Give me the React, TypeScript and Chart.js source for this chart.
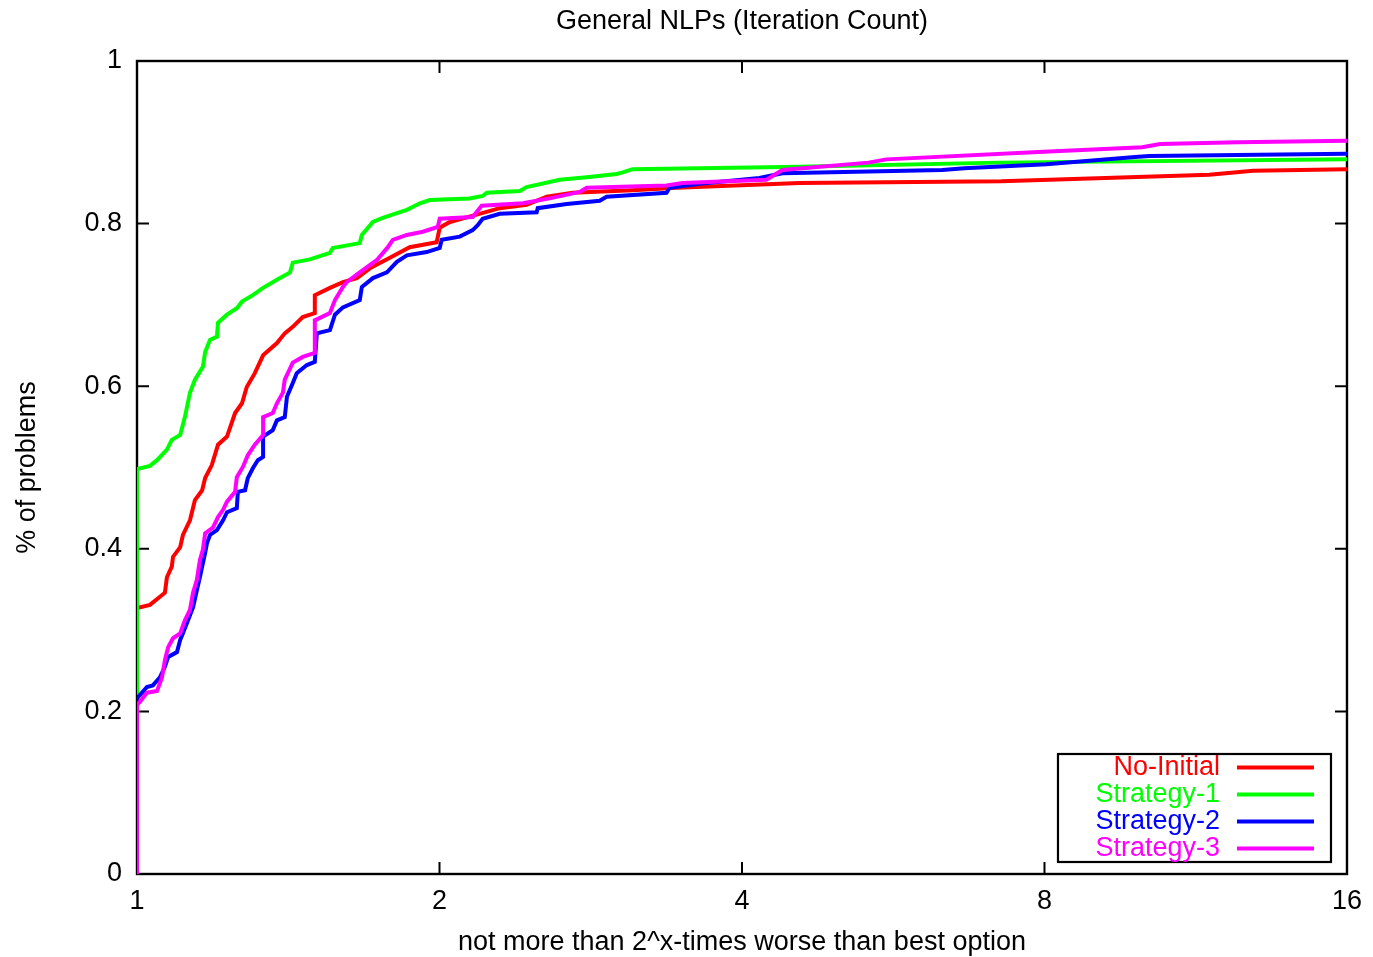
import React, { useEffect, useRef } from 'react';
import { Chart, registerables } from 'chart.js';

Chart.register(...registerables);

const titleText = 'General NLPs (Iteration Count)';
const xAxisTitle = 'not more than 2^x-times worse than best option';
const yAxisTitle = '% of problems';
const xTickValues = [1, 2, 4, 8, 16];
const yTickValues = [0, 0.2, 0.4, 0.6, 0.8, 1];
const seriesLabels = ['No-Initial', 'Strategy-1', 'Strategy-2', 'Strategy-3'];
const seriesColors = ['#ff0000', '#00ff00', '#0000ff', '#ff00ff'];

const noInitialX = [1, 1, 1.030, 1.054, 1.066, 1.071, 1.083, 1.086, 1.104, 1.111, 1.129, 1.142, 1.161, 1.169, 1.187, 1.204, 1.229, 1.252, 1.272, 1.286, 1.310, 1.335, 1.378, 1.403, 1.429, 1.462, 1.503, 1.503, 1.556, 1.603, 1.655, 1.705, 1.785, 1.868, 1.987, 2.001, 2.048, 2.178, 2.296, 2.442, 2.557, 2.714, 3.113, 3.443, 4.563, 7.246, 11.666, 12.903, 16];
const noInitialY = [0, 0.327, 0.331, 0.341, 0.346, 0.365, 0.378, 0.390, 0.402, 0.417, 0.435, 0.460, 0.472, 0.487, 0.503, 0.528, 0.538, 0.567, 0.579, 0.599, 0.616, 0.638, 0.653, 0.665, 0.673, 0.685, 0.690, 0.712, 0.721, 0.728, 0.733, 0.745, 0.758, 0.771, 0.777, 0.795, 0.802, 0.811, 0.819, 0.823, 0.833, 0.838, 0.841, 0.844, 0.850, 0.852, 0.860, 0.865, 0.867];

const strategy1X = [1, 1, 1.030, 1.047, 1.071, 1.083, 1.104, 1.116, 1.129, 1.142, 1.163, 1.169, 1.182, 1.201, 1.204, 1.229, 1.257, 1.272, 1.304, 1.335, 1.378, 1.420, 1.429, 1.486, 1.556, 1.566, 1.666, 1.674, 1.717, 1.756, 1.814, 1.856, 1.912, 1.956, 2.143, 2.208, 2.229, 2.404, 2.442, 2.634, 2.802, 3.001, 3.043, 3.113, 4.563, 7.21, 16];
const strategy1Y = [0, 0.498, 0.502, 0.509, 0.522, 0.534, 0.540, 0.562, 0.592, 0.608, 0.624, 0.642, 0.657, 0.661, 0.678, 0.688, 0.696, 0.704, 0.712, 0.721, 0.731, 0.740, 0.752, 0.756, 0.764, 0.770, 0.776, 0.786, 0.802, 0.807, 0.813, 0.817, 0.825, 0.829, 0.831, 0.834, 0.838, 0.840, 0.845, 0.854, 0.857, 0.861, 0.863, 0.867, 0.870, 0.875, 0.879];

const strategy2X = [1, 1, 1.023, 1.037, 1.054, 1.066, 1.074, 1.096, 1.104, 1.111, 1.124, 1.137, 1.147, 1.155, 1.161, 1.169, 1.174, 1.182, 1.201, 1.218, 1.229, 1.257, 1.260, 1.281, 1.289, 1.304, 1.319, 1.335, 1.335, 1.365, 1.378, 1.403, 1.410, 1.429, 1.442, 1.476, 1.503, 1.510, 1.556, 1.574, 1.603, 1.666, 1.674, 1.717, 1.773, 1.814, 1.856, 1.942, 2.001, 2.010, 2.095, 2.158, 2.183, 2.208, 2.296, 2.499, 2.505, 2.677, 2.887, 2.933, 3.365, 3.388, 3.629, 4.163, 4.388, 6.330, 6.657, 8.032, 9.849, 10.169, 16];
const strategy2Y = [0, 0.216, 0.230, 0.232, 0.242, 0.255, 0.267, 0.273, 0.288, 0.296, 0.312, 0.328, 0.349, 0.365, 0.378, 0.395, 0.407, 0.417, 0.423, 0.435, 0.445, 0.450, 0.470, 0.472, 0.487, 0.499, 0.509, 0.513, 0.538, 0.546, 0.558, 0.562, 0.587, 0.604, 0.616, 0.626, 0.630, 0.665, 0.669, 0.688, 0.697, 0.706, 0.722, 0.733, 0.740, 0.753, 0.761, 0.765, 0.770, 0.780, 0.784, 0.792, 0.798, 0.806, 0.812, 0.814, 0.819, 0.824, 0.828, 0.833, 0.838, 0.844, 0.849, 0.856, 0.862, 0.866, 0.868, 0.873, 0.882, 0.883, 0.886];

const strategy3X = [1, 1, 1.007, 1.023, 1.047, 1.059, 1.066, 1.074, 1.086, 1.104, 1.116, 1.129, 1.137, 1.147, 1.155, 1.163, 1.169, 1.190, 1.204, 1.218, 1.229, 1.252, 1.257, 1.275, 1.289, 1.310, 1.335, 1.335, 1.365, 1.378, 1.397, 1.403, 1.429, 1.462, 1.503, 1.503, 1.556, 1.574, 1.603, 1.617, 1.666, 1.732, 1.777, 1.797, 1.856, 1.925, 1.992, 2.001, 2.158, 2.203, 2.420, 2.574, 2.758, 2.802, 3.365, 3.491, 4.230, 4.388, 5.344, 5.568, 7.888, 10.007, 10.428, 12.467, 16];
const strategy3Y = [0, 0.208, 0.212, 0.223, 0.225, 0.242, 0.263, 0.279, 0.290, 0.296, 0.312, 0.325, 0.346, 0.362, 0.386, 0.399, 0.419, 0.426, 0.439, 0.448, 0.458, 0.470, 0.488, 0.501, 0.515, 0.528, 0.540, 0.562, 0.567, 0.579, 0.592, 0.608, 0.629, 0.636, 0.641, 0.681, 0.690, 0.706, 0.722, 0.728, 0.740, 0.755, 0.771, 0.780, 0.786, 0.790, 0.796, 0.806, 0.808, 0.822, 0.825, 0.831, 0.839, 0.844, 0.847, 0.850, 0.854, 0.866, 0.875, 0.879, 0.888, 0.894, 0.898, 0.900, 0.902];

const seriesX = [noInitialX, strategy1X, strategy2X, strategy3X];
const seriesY = [noInitialY, strategy1Y, strategy2Y, strategy3Y];

const FONT_FAMILY = "'Liberation Sans', Arial, Helvetica, sans-serif";
const FONT_SIZE = 27;

const framePlugin = {
  id: 'gnuplotFrame',
  beforeDatasetsDraw(chart: any) {
    const { ctx, chartArea: a, scales } = chart;
    const len = 12;
    ctx.save();
    ctx.strokeStyle = '#000';
    ctx.lineWidth = 2.4;
    ctx.strokeRect(a.left, a.top, a.right - a.left, a.bottom - a.top);
    ctx.lineWidth = 2;
    ctx.beginPath();
    scales.x.ticks.forEach((t: any) => {
      const px = scales.x.getPixelForValue(t.value);
      ctx.moveTo(px, a.bottom);
      ctx.lineTo(px, a.bottom - len);
      ctx.moveTo(px, a.top);
      ctx.lineTo(px, a.top + len);
    });
    scales.y.ticks.forEach((t: any) => {
      const py = scales.y.getPixelForValue(t.value);
      ctx.moveTo(a.left, py);
      ctx.lineTo(a.left + len, py);
      ctx.moveTo(a.right, py);
      ctx.lineTo(a.right - len, py);
    });
    ctx.stroke();
    ctx.restore();
  },
};

const titlePlugin = {
  id: 'gnuplotTitle',
  afterDraw(chart: any) {
    const { ctx, chartArea: a } = chart;
    ctx.save();
    ctx.font = `${FONT_SIZE}px ${FONT_FAMILY}`;
    ctx.fillStyle = '#000';
    ctx.textAlign = 'center';
    ctx.textBaseline = 'middle';
    ctx.fillText(titleText, (a.left + a.right) / 2, 22);
    ctx.restore();
  },
};

const legendPlugin = {
  id: 'gnuplotLegend',
  afterDatasetsDraw(chart: any) {
    const { ctx, chartArea: a } = chart;
    const datasets = chart.data.datasets;
    const rowH = 27;
    const boxW = 273;
    const boxH = 108;
    const right = a.right - 16;
    const bottom = a.bottom - 12;
    const left = right - boxW;
    const top = bottom - boxH;
    ctx.save();
    ctx.fillStyle = '#fff';
    ctx.fillRect(left, top, boxW, boxH);
    ctx.strokeStyle = '#000';
    ctx.lineWidth = 2.2;
    ctx.strokeRect(left, top, boxW, boxH);
    ctx.font = `${FONT_SIZE}px ${FONT_FAMILY}`;
    ctx.textAlign = 'right';
    ctx.textBaseline = 'middle';
    datasets.forEach((ds: any, i: number) => {
      const cy = top + 13.5 + i * rowH;
      ctx.fillStyle = ds.borderColor;
      ctx.fillText(ds.label, left + 162, cy);
      ctx.strokeStyle = ds.borderColor;
      ctx.lineWidth = 4;
      ctx.beginPath();
      ctx.moveTo(left + 179, cy);
      ctx.lineTo(left + 256, cy);
      ctx.stroke();
    });
    ctx.restore();
  },
};

export default function App() {
  const canvasRef = useRef<HTMLCanvasElement>(null);

  useEffect(() => {
    document.body.style.margin = '0';
    const canvas = canvasRef.current;
    if (!canvas) return;

    const datasets = seriesLabels.map((label, i) => ({
      label,
      data: seriesX[i].map((x, j) => ({ x, y: seriesY[i][j] })),
      borderColor: seriesColors[i],
      backgroundColor: seriesColors[i],
      borderWidth: 4,
      pointRadius: 0,
      pointHoverRadius: 0,
      tension: 0,
      fill: false,
      order: seriesLabels.length - 1 - i,
    }));

    const chart = new Chart(canvas, {
      type: 'line',
      data: { datasets },
      plugins: [framePlugin, legendPlugin, titlePlugin],
      options: {
        animation: false,
        responsive: false,
        devicePixelRatio: 1,
        events: [],
        layout: { padding: { top: 61, left: 0, right: 25, bottom: 0 } },
        font: { family: FONT_FAMILY, size: FONT_SIZE },
        color: '#000',
        plugins: {
          legend: { display: false },
          tooltip: { enabled: false },
          title: { display: false },
        },
        scales: {
          x: {
            type: 'logarithmic',
            min: 1,
            max: 16,
            grid: { display: false, drawTicks: false },
            border: { display: false },
            afterBuildTicks: (scale: any) => {
              scale.ticks = xTickValues.map((v) => ({ value: v }));
            },
            afterFit: (scale: any) => {
              scale.height = 83;
            },
            ticks: {
              color: '#000',
              padding: 11,
              maxRotation: 0,
              autoSkip: false,
              font: { family: FONT_FAMILY, size: FONT_SIZE },
              callback: (v: any) => String(v),
            },
            title: {
              display: true,
              text: xAxisTitle,
              color: '#000',
              font: { family: FONT_FAMILY, size: FONT_SIZE, lineHeight: 1 },
              padding: { top: 0, bottom: 0.5 },
            },
          },
          y: {
            type: 'linear',
            min: 0,
            max: 1,
            grid: { display: false, drawTicks: false },
            border: { display: false },
            afterBuildTicks: (scale: any) => {
              scale.ticks = yTickValues.map((v) => ({ value: v }));
            },
            afterFit: (scale: any) => {
              scale.width = 137;
            },
            ticks: {
              color: '#000',
              padding: 15,
              autoSkip: false,
              font: { family: FONT_FAMILY, size: FONT_SIZE },
              callback: (v: any) => String(v),
            },
            title: {
              display: true,
              text: yAxisTitle,
              color: '#000',
              font: { family: FONT_FAMILY, size: FONT_SIZE },
              padding: { top: 11, bottom: 0 },
            },
          },
        },
      } as any,
    });

    return () => chart.destroy();
  }, []);

  return (
    <div style={{ width: 1373, height: 957 }}>
      <canvas ref={canvasRef} width={1373} height={957} style={{ display: 'block' }} />
    </div>
  );
}
